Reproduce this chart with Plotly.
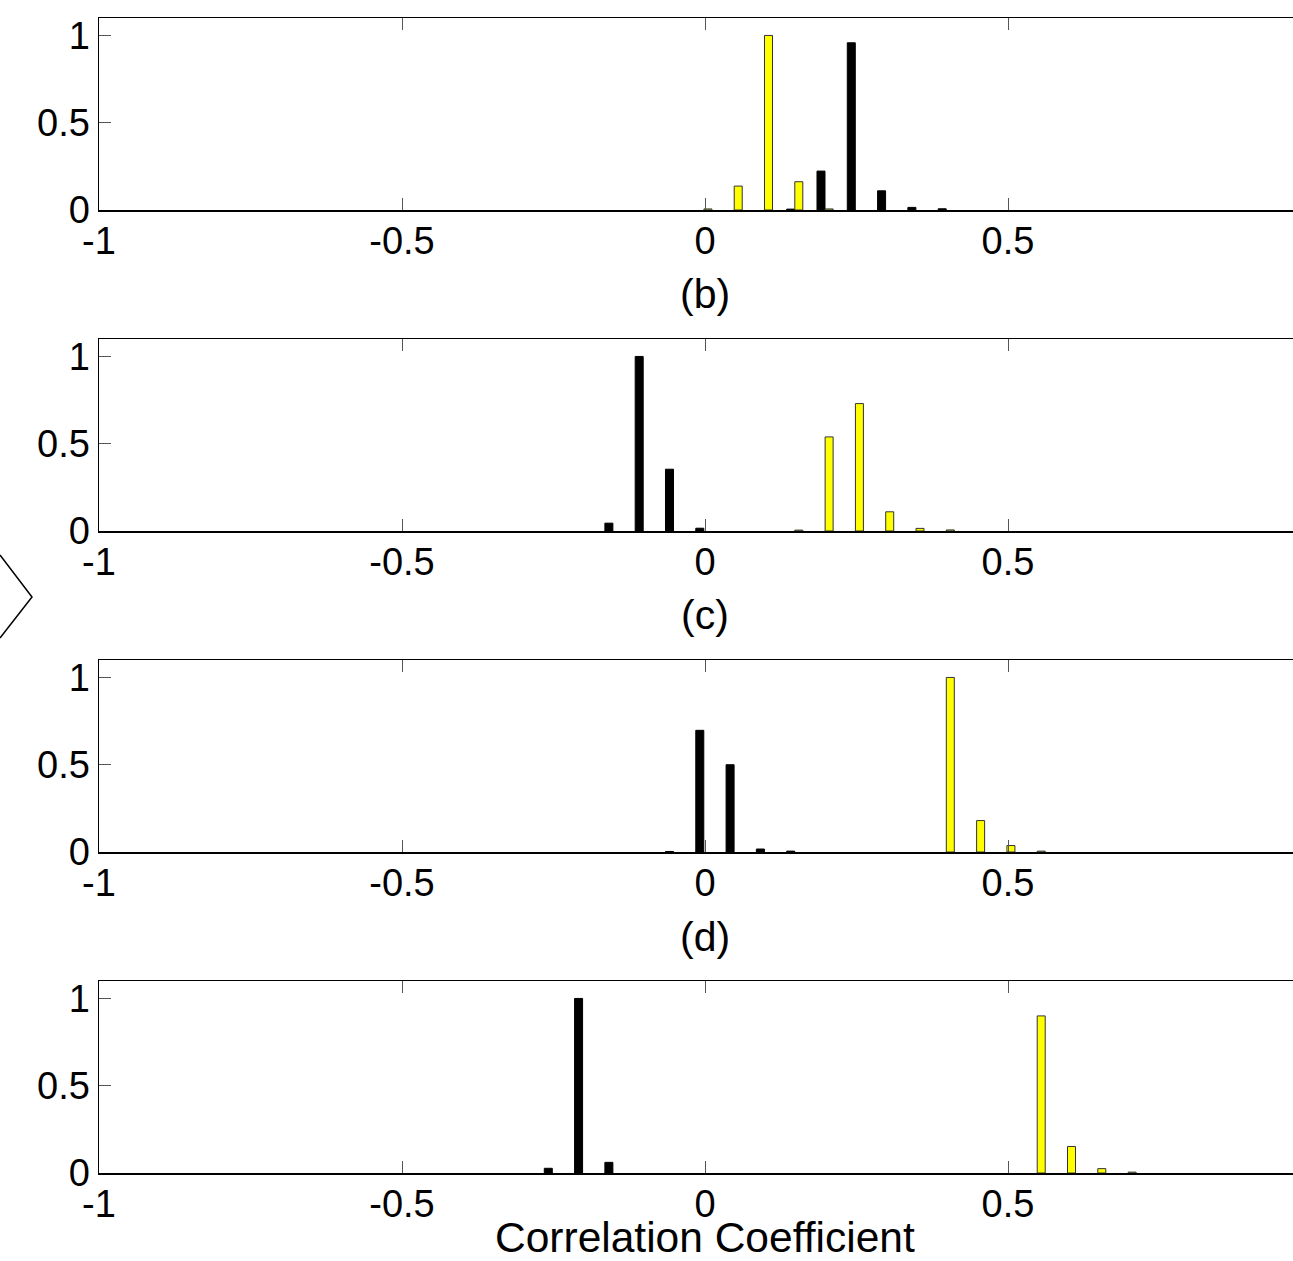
import plotly.graph_objects as go

# ---------------- data ----------------
panel_labels = ["(b)", "(c)", "(d)", "Correlation Coefficient"]
x_tick_vals = [-1, -0.5, 0, 0.5]
x_tick_text = ["-1", "-0.5", "0", "0.5"]
y_tick_vals = [0, 0.5, 1]
y_tick_text = ["0", "0.5", "1"]

# panel 1
p1_black_bins = [0.15, 0.20, 0.25, 0.30, 0.35, 0.40]
p1_black_vals = [0.005, 0.223, 0.958, 0.110, 0.015, 0.007]
p1_yellow_bins = [0.00, 0.05, 0.10, 0.15, 0.20]
p1_yellow_vals = [0.006, 0.137, 1.000, 0.162, 0.006]
# panel 2
p2_black_bins = [-0.15, -0.10, -0.05, 0.00]
p2_black_vals = [0.045, 1.000, 0.354, 0.016]
p2_yellow_bins = [0.15, 0.20, 0.25, 0.30, 0.35, 0.40]
p2_yellow_vals = [0.005, 0.539, 0.730, 0.110, 0.015, 0.006]
# panel 3
p3_black_bins = [-0.05, 0.00, 0.05, 0.10, 0.15]
p3_black_vals = [0.003, 0.697, 0.500, 0.017, 0.005]
p3_yellow_bins = [0.40, 0.45, 0.50, 0.55]
p3_yellow_vals = [1.000, 0.180, 0.037, 0.005]
# panel 4
p4_black_bins = [-0.25, -0.20, -0.15]
p4_black_vals = [0.027, 1.000, 0.061]
p4_yellow_bins = [0.55, 0.60, 0.65, 0.70]
p4_yellow_vals = [0.900, 0.152, 0.025, 0.005]

panels = [
    (p1_black_bins, p1_black_vals, p1_yellow_bins, p1_yellow_vals),
    (p2_black_bins, p2_black_vals, p2_yellow_bins, p2_yellow_vals),
    (p3_black_bins, p3_black_vals, p3_yellow_bins, p3_yellow_vals),
    (p4_black_bins, p4_black_vals, p4_yellow_bins, p4_yellow_vals),
]

# ---------------- layout geometry (pixels) ----------------
W, H = 1293, 1261
AX_LEFT_PX = 99
PX_PER_UNIT = 606.0
X_RANGE = [-1, -1 + (W - AX_LEFT_PX) / PX_PER_UNIT]
panel_px = [(18, 210), (339, 531), (660, 852), (981, 1173)]  # top, bottom
label_y_px = [294, 615, 937, 1237]
label_fs = [41, 41, 41, 42.5]

FONT = "Liberation Sans, Arial, Helvetica, sans-serif"
TICK_FS = 38

BAR_W = 0.0132

fig = go.Figure()

for i, (bb, bv, yb, yv) in enumerate(panels):
    n = i + 1
    xa = "x" if n == 1 else f"x{n}"
    ya = "y" if n == 1 else f"y{n}"
    fig.add_trace(go.Bar(
        x=bb, y=bv, xaxis=xa, yaxis=ya, width=BAR_W, offset=-0.0152,
        marker=dict(color="#000000", line=dict(color="#000000", width=1)),
        showlegend=False,
    ))
    fig.add_trace(go.Bar(
        x=yb, y=yv, xaxis=xa, yaxis=ya, width=BAR_W, offset=-0.0018,
        marker=dict(color="#FFFF00", line=dict(color="#333333", width=1)),
        showlegend=False,
    ))
    # dummy trace for top (mirrored) axis
    fig.add_trace(go.Scatter(x=[], y=[], xaxis=f"x{n+4}", yaxis=ya,
                             showlegend=False, hoverinfo="skip"))

layout = dict(
    width=W, height=H,
    margin=dict(l=0, r=0, t=0, b=0),
    paper_bgcolor="white", plot_bgcolor="white",
    template="none",
    barmode="overlay",
    font=dict(family=FONT, size=TICK_FS, color="black"),
    showlegend=False,
)

for i, (top, bot) in enumerate(panel_px):
    n = i + 1
    xkey = "xaxis" if n == 1 else f"xaxis{n}"
    ykey = "yaxis" if n == 1 else f"yaxis{n}"
    ya = "y" if n == 1 else f"y{n}"
    xa = "x" if n == 1 else f"x{n}"
    ydom = [1 - bot / H, 1 - top / H]
    layout[xkey] = dict(
        domain=[AX_LEFT_PX / W, 1.0], anchor=ya, range=X_RANGE,
        tickmode="array", tickvals=x_tick_vals, ticktext=x_tick_text,
        ticks="inside", ticklen=12, tickwidth=1, tickcolor="#555555",
        ticklabelstandoff=-3,
        showline=True, linecolor="black", linewidth=1.5,
        showgrid=False, zeroline=False, automargin=False,
        tickfont=dict(family=FONT, size=TICK_FS, color="black"),
        fixedrange=True,
    )
    layout[f"xaxis{n+4}"] = dict(
        overlaying=xa, anchor=ya, side="top", range=X_RANGE,
        tickmode="array", tickvals=x_tick_vals,
        ticks="inside", ticklen=12, tickwidth=1, tickcolor="#555555",
        showticklabels=False,
        showline=True, linecolor="black", linewidth=1.5,
        showgrid=False, zeroline=False, automargin=False,
    )
    layout[ykey] = dict(
        domain=ydom, anchor=xa, range=[0, 1.1],
        tickmode="array", tickvals=y_tick_vals, ticktext=y_tick_text,
        ticks="inside", ticklen=12, tickwidth=1, tickcolor="#555555",
        showline=True, linecolor="black", linewidth=1.5,
        showgrid=False, zeroline=False, automargin=False,
        tickfont=dict(family=FONT, size=TICK_FS, color="black"),
        fixedrange=True,
    )

annotations = []
for lab, ypx, fs in zip(panel_labels, label_y_px, label_fs):
    annotations.append(dict(
        text=lab, xref="paper", yref="paper",
        x=705 / W, y=1 - ypx / H, xanchor="center", yanchor="middle",
        showarrow=False, font=dict(family=FONT, size=fs, color="black"),
    ))
layout["annotations"] = annotations

# partial chevron shape visible at left edge (cropped figure element)
layout["shapes"] = [dict(
    type="path", xref="paper", yref="paper",
    path=f"M 0,{1 - 555 / H} L {32 / W},{1 - 597 / H} L 0,{1 - 638 / H}",
    line=dict(color="black", width=1.5),
)]

fig.update_layout(**layout)
fig.write_html(
    "out.html",
    config={"displayModeBar": False, "staticPlot": True},
    post_script="document.body.style.margin='0';document.body.style.padding='0';",
)
